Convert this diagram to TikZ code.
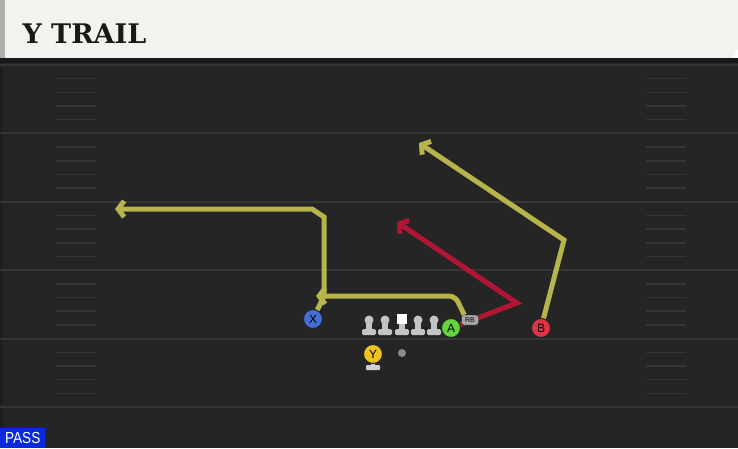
\documentclass[tikz,border=0pt]{standalone}
\usepackage{fontspec}
\setsansfont{Liberation Sans}
\newfontfamily\titlefont{DejaVu Serif Bold}
\usepackage{tikz}
\usetikzlibrary{arrows.meta,shapes,positioning}
\usepackage{xcolor}
\definecolor{pbfield}{RGB}{37,37,37}
\definecolor{pbshadow}{RGB}{24,24,24}
\definecolor{pbline}{RGB}{54,54,54}
\definecolor{pbhash}{RGB}{54,54,54}
\definecolor{pbpaper}{RGB}{244,242,236}
\definecolor{pbstrip}{RGB}{176,176,168}
\definecolor{pbyellow}{RGB}{182,180,74}
\definecolor{pbred}{RGB}{176,22,52}
\definecolor{pbblue}{RGB}{66,110,214}
\definecolor{pbgreen}{RGB}{98,212,60}
\definecolor{pbpink}{RGB}{224,52,70}
\definecolor{pbgold}{RGB}{240,196,32}
\definecolor{pbgray}{RGB}{196,196,196}
\definecolor{pbpass}{RGB}{10,40,220}
\tikzstyle{route} = [line width=5pt, color=pbyellow, -{Straight Barb[length=6pt,width=16pt]}]
\tikzstyle{hotroute} = [route, color=pbred]
\tikzstyle{player} = [circle, draw=black!85, line width=1pt, minimum size=19pt, inner sep=0pt, font=\sffamily\fontsize{12}{12}\selectfont]
\tikzstyle{hashmark} = [color=pbhash, line width=1.5pt]
\tikzstyle{yardline} = [color=pbline, line width=2pt]
\tikzstyle{lineman} = [fill=pbgray]

\begin{document}
\begin{tikzpicture}[x=1pt, y=-1pt]
\useasboundingbox (0,0) rectangle (738,448);
% Field and header
\fill[pbfield] (0,58) rectangle (738,448);
\fill[black!20!pbfield] (0,58) rectangle (3,448);
\fill[pbpaper] (0,0) -- (738,0) -- (738,48) -- (733,58) -- (0,58) -- cycle;
\fill[pbstrip] (0,0) rectangle (5,58);
\fill[pbshadow] (0,58) rectangle (738,63);
\node[anchor=base west, font=\titlefont\fontsize{27}{27}\selectfont, text=black!90] (title) at (19,43) {Y TRAIL};

% Yard lines and hash marks
\foreach \yl in {65,133.4,201.8,270.2,338.6,407} {
  \draw[yardline] (0,\yl) -- (738,\yl);
}
\foreach \yl in {65,133.4,201.8,270.2,338.6} {
  \foreach \k in {1,...,4} {
    \draw[hashmark] (56,\yl+\k*13.68) -- (96,\yl+\k*13.68);
    \draw[hashmark] (646,\yl+\k*13.68) -- (686,\yl+\k*13.68);
  }
}

% Offensive line
\foreach \lx in {369,385,418,434} {
  \fill[lineman, rounded corners=1.5pt] (\lx-7,329) rectangle (\lx+7,335);
  \fill[lineman] (\lx-3,320) rectangle (\lx+3,330);
  \fill[lineman] (\lx,320) circle (4.5);
}
\fill[lineman, rounded corners=1.5pt] (395,329) rectangle (409,335);
\fill[lineman] (399,321) rectangle (405,330);
\fill[white] (397,314) rectangle (407,324);

% Skill players
\fill[pbgray!80, rounded corners=1pt] (371,362) rectangle (375,366);
\fill[pbgray!80, rounded corners=1pt] (366,365) rectangle (380,370);
\node[player, fill=pbgold] (Y) at (373,354) {Y};
\node[circle, fill=black!45, minimum size=8pt, inner sep=0pt] (ball) at (402,353) {};
\node[player, fill=pbblue] (X) at (313,319) {X};
\node[player, fill=pbgreen] (A) at (451,328) {A};
\node[player, fill=pbpink] (B) at (541,328) {B};

% Routes
\coordinate (xcut) at (324,296);
\coordinate (xup) at (324,217);
\coordinate (xbreak) at (312,209);
\coordinate (xend) at (115,209);
\draw[route] (X) -- (xcut) -- (xup) -- (xbreak) -- (xend);

\coordinate (abreak) at (517,303);
\coordinate (aend) at (397,222);
\draw[hotroute] (A) -- (abreak) -- (aend);

\node[rounded corners=2.5pt, draw=black!85, fill=black!35, minimum width=17pt, minimum height=10pt, inner sep=0pt, font=\sffamily\fontsize{7}{7}\selectfont] (rb) at (470,320) {RB};
\coordinate (rbturn) at (455,296);
\coordinate (rbend) at (316,296);
\draw[route, rounded corners=6pt] (rb.north west) ++(3,0) -- (rbturn) -- (rbend);

\coordinate (bbreak) at (564,240);
\coordinate (bend) at (419,143);
\draw[route] (B) -- (bbreak) -- (bend);

% Play type
\node[anchor=south west, fill=pbpass, minimum width=45pt, minimum height=20pt, inner sep=0pt, text=white, font=\sffamily\fontsize{16}{16}\selectfont] (pass) at (0,448) {\scalebox{0.85}[1]{PASS}};
\end{tikzpicture}
\end{document}
